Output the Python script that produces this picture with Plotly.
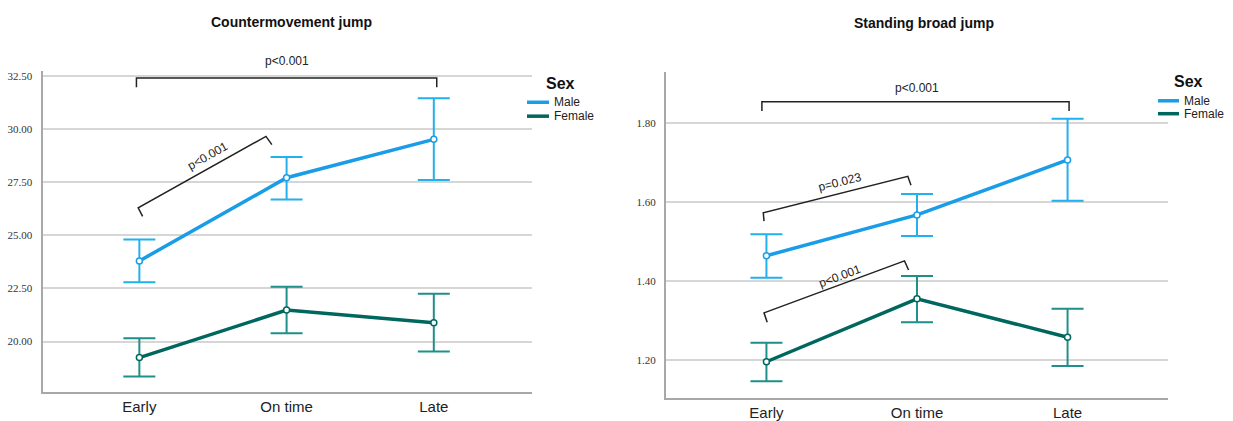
import plotly.graph_objects as go

# ---------------- data ----------------
categories = ["Early", "On time", "Late"]
series_names = ["Male", "Female"]

cmj_male_mean = [23.80, 27.72, 29.53]
cmj_male_upper = [24.81, 28.70, 31.47]
cmj_male_lower = [22.79, 26.70, 27.61]
cmj_female_mean = [19.24, 21.48, 20.88]
cmj_female_upper = [20.15, 22.58, 22.25]
cmj_female_lower = [18.35, 20.39, 19.53]

sbj_male_mean = [1.464, 1.567, 1.706]
sbj_male_upper = [1.518, 1.620, 1.810]
sbj_male_lower = [1.408, 1.514, 1.603]
sbj_female_mean = [1.196, 1.355, 1.258]
sbj_female_upper = [1.244, 1.413, 1.330]
sbj_female_lower = [1.147, 1.296, 1.185]

cmj_ticks = [20.0, 22.5, 25.0, 27.5, 30.0, 32.5]
sbj_ticks = [1.20, 1.40, 1.60, 1.80]

# ---------------- style ----------------
MALE_LINE = "#1a9de6"
MALE_ERR = "#22b0ee"
FEMALE_LINE = "#00675f"
FEMALE_ERR = "#1f8f89"
LINE_COLORS = [MALE_LINE, FEMALE_LINE]
NARROW = "Liberation Sans Narrow, Liberation Sans, Arial, sans-serif"
SANS = "Liberation Sans, Arial, sans-serif"
SERIF = "Liberation Serif, Times New Roman, serif"

xidx = list(range(len(categories)))

fig = go.Figure()


def add_series(mean, upper, lower, name, lc, ec, xa, ya):
    fig.add_trace(go.Scatter(
        x=xidx, y=mean, name=name, mode="lines+markers",
        xaxis=xa, yaxis=ya, showlegend=False,
        line=dict(color=lc, width=3.5),
        marker=dict(size=6, color="white", line=dict(color=lc, width=1.5)),
        error_y=dict(type="data", symmetric=False,
                     array=[u - m for u, m in zip(upper, mean)],
                     arrayminus=[m - l for m, l in zip(mean, lower)],
                     color=ec, thickness=2, width=16),
    ))


add_series(cmj_male_mean, cmj_male_upper, cmj_male_lower, "Male", MALE_LINE, MALE_ERR, "x", "y")
add_series(cmj_female_mean, cmj_female_upper, cmj_female_lower, "Female", FEMALE_LINE, FEMALE_ERR, "x", "y")
add_series(sbj_male_mean, sbj_male_upper, sbj_male_lower, "Male", MALE_LINE, MALE_ERR, "x2", "y2")
add_series(sbj_female_mean, sbj_female_upper, sbj_female_lower, "Female", FEMALE_LINE, FEMALE_ERR, "x2", "y2")

W, H = 1233, 421

xaxis_common = dict(
    tickvals=xidx, ticktext=categories, showgrid=False, zeroline=False,
    showline=True, linecolor="#a8a8a8", linewidth=2,
    tickfont=dict(family=NARROW, size=15, color="#222"), ticks="",
)
yaxis_common = dict(
    zeroline=False, showline=True, linecolor="#a8a8a8", linewidth=2,
    gridcolor="#d6d6d6", gridwidth=2, tickformat=".2f",
    tickfont=dict(family=SERIF, size=11, color="#333"), ticks="",
    ticklabelstandoff=6,
)

fig.update_layout(
    width=W, height=H,
    margin=dict(l=0, r=0, t=0, b=0),
    paper_bgcolor="white", plot_bgcolor="white",
    showlegend=False,
    xaxis=dict(domain=[42.5 / W, 532 / W], range=[-0.658, 2.667], anchor="y", **xaxis_common),
    yaxis=dict(domain=[1 - 394 / H, 1 - 71 / H], range=[17.61, 32.73], tickvals=cmj_ticks, anchor="x", **yaxis_common),
    xaxis2=dict(domain=[666 / W, 1168 / W], range=[-0.667, 2.667], anchor="y2", **xaxis_common),
    yaxis2=dict(domain=[1 - 400 / H, 1 - 72 / H], range=[1.104, 1.927], tickvals=sbj_ticks, anchor="x2", **yaxis_common),
)

# titles
fig.add_annotation(text="<b>Countermovement jump</b>", x=291 / W, y=1 - 21 / H, xref="paper", yref="paper",
                   xanchor="center", yanchor="middle", showarrow=False,
                   font=dict(family=NARROW, size=14, color="#111"))
fig.add_annotation(text="<b>Standing broad jump</b>", x=924 / W, y=1 - 22 / H, xref="paper", yref="paper",
                   xanchor="center", yanchor="middle", showarrow=False,
                   font=dict(family=NARROW, size=14, color="#111"))

# legends (title + line samples + labels), one per panel
legend_boxes = [
    dict(title_x=560, title_y=83, line_x0=527, line_x1=549, text_x=552, rows=[102, 116]),
    dict(title_x=1188, title_y=81, line_x0=1158, line_x1=1179, text_x=1182, rows=[100.5, 113.5]),
]
for lb in legend_boxes:
    fig.add_annotation(text="<b>Sex</b>", x=lb["title_x"] / W, y=1 - lb["title_y"] / H, xref="paper", yref="paper",
                       xanchor="center", yanchor="middle", showarrow=False,
                       font=dict(family=NARROW, size=16, color="#111"))
    for name, color, ry in zip(series_names, LINE_COLORS, lb["rows"]):
        fig.add_shape(type="line", xref="paper", yref="paper",
                      x0=lb["line_x0"] / W, x1=lb["line_x1"] / W, y0=1 - ry / H, y1=1 - ry / H,
                      line=dict(color=color, width=3.5))
        fig.add_annotation(text=name, x=lb["text_x"] / W, y=1 - ry / H, xref="paper", yref="paper",
                           xanchor="left", yanchor="middle", showarrow=False,
                           font=dict(family=NARROW, size=12, color="#222"))

# significance brackets (annotation geometry)
brackets = [
    ("x", "y", [(-0.02, 31.985), (-0.02, 32.42), (2.02, 32.42), (2.02, 31.985)]),
    ("x", "y", [(0.022, 25.90), (-0.008, 26.30), (0.86, 29.67), (0.90, 29.28)]),
    ("x2", "y2", [(-0.03, 1.8296), (-0.03, 1.853), (2.01, 1.853), (2.01, 1.8296)]),
    ("x2", "y2", [(-0.016, 1.5515), (-0.021, 1.5726), (0.939, 1.6646), (0.96, 1.642)]),
    ("x2", "y2", [(0.005, 1.296), (-0.016, 1.3196), (0.917, 1.451), (0.944, 1.428)]),
]
for xr, yr, pts in brackets:
    path = "M " + " L ".join(f"{px},{py}" for px, py in pts)
    fig.add_shape(type="path", path=path, xref=xr, yref=yr, line=dict(color="#222", width=1.5))

labels = [
    ("x", "paper", 1.0, 1 - 60 / H, "p<0.001", 0),
    ("x", "y", 0.463, 28.73, "p<0.001", -29.5),
    ("x2", "y2", 1.0, 1.887, "p<0.001", 0),
    ("x2", "y2", 0.49, 1.6495, "p=0.023", -14.3),
    ("x2", "y2", 0.49, 1.4118, "p<0.001", -20.5),
]
for xr, yr, lx, ly, txt, ang in labels:
    fig.add_annotation(text=txt, x=lx, y=ly, xref=xr, yref=yr, showarrow=False, textangle=ang,
                       xanchor="center", yanchor="middle",
                       font=dict(family=SANS, size=12, color="#222"))

fig.write_html("out.html", config={"displayModeBar": False},
               post_script="document.body.style.margin='0px';")
